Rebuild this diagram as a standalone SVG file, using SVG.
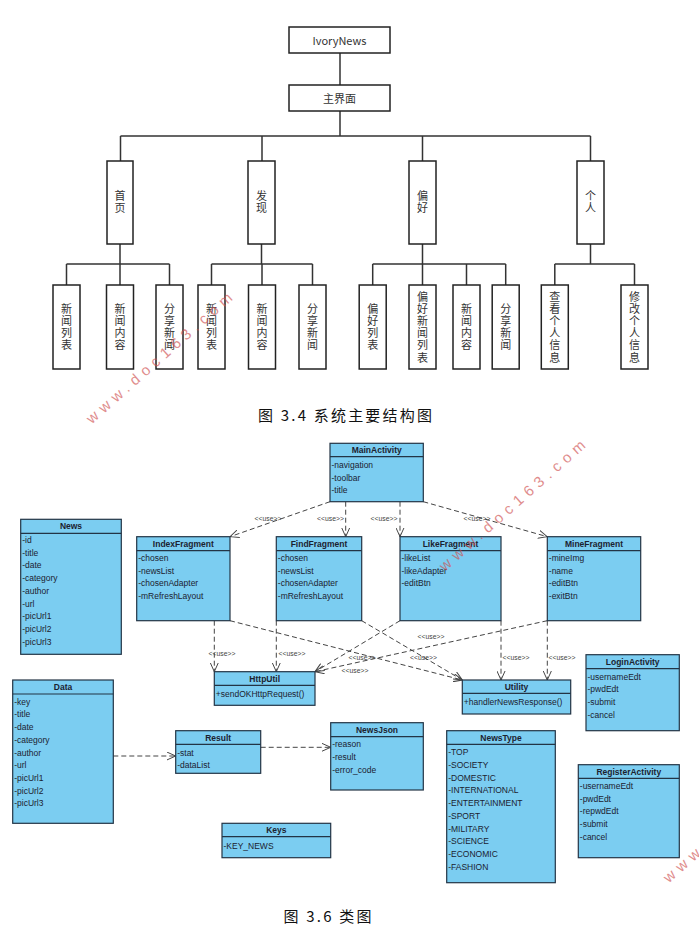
<svg xmlns="http://www.w3.org/2000/svg" width="699" height="930" viewBox="0 0 699 930">
<style>
.tb{fill:#fff;stroke:#222;stroke-width:1.5}
.tl{fill:none;stroke:#333;stroke-width:1.5}
.tt{font-family:"Noto Sans CJK SC","Noto Sans",sans-serif;font-size:11px;fill:#333;text-anchor:middle;dominant-baseline:central}
.tv{font-family:"Noto Sans CJK SC","Noto Sans",sans-serif;font-size:11px;fill:#333;text-anchor:middle;writing-mode:vertical-rl;letter-spacing:1.2px}
.cls{fill:#7BCDF1;stroke:#233445;stroke-width:1.2}
.dv{stroke:#233445;stroke-width:1.2}
.ct{font-family:"Liberation Sans",Arial,sans-serif;font-size:8.5px;fill:#1b2230;dominant-baseline:central}
.ch{font-weight:bold;text-anchor:middle}
.dep{fill:none;stroke:#444;stroke-width:1;stroke-dasharray:5 3;marker-end:url(#open)}
.lbl{font-family:"Liberation Sans",Arial,sans-serif;font-size:6.8px;fill:#444;text-anchor:middle;dominant-baseline:central}
.wm{font-family:"Liberation Sans",Arial,sans-serif;font-size:15px;fill:#d05050;opacity:0.65;letter-spacing:5.5px;text-anchor:middle;dominant-baseline:central}
.cap{font-family:"Noto Sans CJK SC",sans-serif;font-size:15px;fill:#111;text-anchor:middle;dominant-baseline:central}
</style>
<defs>
<marker id="open" viewBox="0 0 10 10" refX="10" refY="5" markerWidth="9" markerHeight="9" orient="auto" markerUnits="userSpaceOnUse">
<path d="M0,0.5 L10,5 L0,9.5" fill="none" stroke="#444" stroke-width="1.1" stroke-dasharray="none"/>
</marker>
</defs>
<rect width="699" height="930" fill="#fff"/>

<!-- Tree connectors -->
<g id="tree-lines" class="tl">
<path d="M340,53 V85 M340,111 V136 M120.5,136 H590.5 M120.5,136 V161 M262,136 V161 M422.5,136 V161 M590.5,136 V161"/>
<path d="M120,244 V264 M66.5,264 H169.5 M66.5,264 V285 M120,264 V285 M169.5,264 V285"/>
<path d="M261.5,244 V264 M211.5,264 H312.5 M211.5,264 V285 M262,264 V285 M312.5,264 V285"/>
<path d="M422.5,244 V264 M372.7,264 H505.7 M372.7,264 V285 M422.5,264 V285 M466.5,264 V285 M505.7,264 V285"/>
<path d="M590.5,244 V264 M554.8,264 H634.5 M554.8,264 V285 M634.5,264 V285"/>
</g>

<g id="n-ivory"><rect class="tb" x="289" y="27" width="101" height="26"/><text class="tt" x="339.5" y="40">IvoryNews</text></g>
<g id="n-main"><rect class="tb" x="289" y="85" width="101" height="26"/><text class="tt" x="339.5" y="98">主界面</text></g>

<g id="n-home"><rect class="tb" x="107" y="161" width="26" height="83"/><text class="tv" x="120" y="202.5">首页</text></g>
<g id="n-find"><rect class="tb" x="248" y="161" width="27" height="83"/><text class="tv" x="261.5" y="202.5">发现</text></g>
<g id="n-pref"><rect class="tb" x="409" y="161" width="27" height="83"/><text class="tv" x="422.5" y="202.5">偏好</text></g>
<g id="n-me"><rect class="tb" x="577" y="161" width="27" height="83"/><text class="tv" x="590.5" y="202.5">个人</text></g>

<g id="l1"><rect class="tb" x="53" y="285" width="27" height="84"/><text class="tv" x="66.5" y="327.5">新闻列表</text></g>
<g id="l2"><rect class="tb" x="106.5" y="285" width="27" height="84"/><text class="tv" x="120" y="327.5">新闻内容</text></g>
<g id="l3"><rect class="tb" x="156" y="285" width="27" height="84"/><text class="tv" x="169.5" y="327.5">分享新闻</text></g>
<g id="l4"><rect class="tb" x="198" y="285" width="27" height="84"/><text class="tv" x="211.5" y="327.5">新闻列表</text></g>
<g id="l5"><rect class="tb" x="248.5" y="285" width="27" height="84"/><text class="tv" x="262" y="327.5">新闻内容</text></g>
<g id="l6"><rect class="tb" x="299" y="285" width="27" height="84"/><text class="tv" x="312.5" y="327.5">分享新闻</text></g>
<g id="l7"><rect class="tb" x="359.2" y="285" width="27" height="84"/><text class="tv" x="372.7" y="327.5">偏好列表</text></g>
<g id="l8"><rect class="tb" x="409" y="285" width="27" height="84"/><text class="tv" x="422.5" y="327.5">偏好新闻列表</text></g>
<g id="l9"><rect class="tb" x="453" y="285" width="27" height="84"/><text class="tv" x="466.5" y="327.5">新闻内容</text></g>
<g id="l10"><rect class="tb" x="492.2" y="285" width="27" height="84"/><text class="tv" x="505.7" y="327.5">分享新闻</text></g>
<g id="l11"><rect class="tb" x="541.3" y="285" width="27" height="84"/><text class="tv" x="554.8" y="327.5">查看个人信息</text></g>
<g id="l12"><rect class="tb" x="621" y="285" width="27" height="84"/><text class="tv" x="634.5" y="327.5">修改个人信息</text></g>

<text class="cap" x="345" y="414" textLength="174" lengthAdjust="spacing">图 3.4 系统主要结构图</text>

<!-- Class diagram connectors -->
<g id="connectors">
<path class="dep" d="M330,501.7 L230,536.7"/>
<path class="dep" d="M345.7,501.7 L345.7,536.7"/>
<path class="dep" d="M400,501.7 L400,536.7"/>
<path class="dep" d="M423.3,501.7 L547.3,536.7"/>
<path class="dep" d="M214.3,620.7 L214.3,671.7"/>
<path class="dep" d="M276.3,620.7 L276.3,671.7"/>
<path class="dep" d="M230,620.7 L462.3,680"/>
<path class="dep" d="M361.7,620.7 L462.3,680"/>
<path class="dep" d="M400,620.7 L315,671.7"/>
<path class="dep" d="M547.3,620.7 L315,671.7"/>
<path class="dep" d="M501,620.7 L501,680"/>
<path class="dep" d="M547.3,620.7 L547.3,680"/>
<path class="dep" d="M113.3,756 L175.7,756"/>
<path class="dep" d="M260.7,747.3 L330.7,747.3"/>
<text class="lbl" x="268" y="518">&lt;&lt;use&gt;&gt;</text>
<text class="lbl" x="330.5" y="518">&lt;&lt;use&gt;&gt;</text>
<text class="lbl" x="384" y="518">&lt;&lt;use&gt;&gt;</text>
<text class="lbl" x="477" y="518">&lt;&lt;use&gt;&gt;</text>
<text class="lbl" x="222" y="653.3">&lt;&lt;use&gt;&gt;</text>
<text class="lbl" x="292" y="653.3">&lt;&lt;use&gt;&gt;</text>
<text class="lbl" x="362" y="657.5">&lt;&lt;use&gt;&gt;</text>
<text class="lbl" x="423.5" y="657">&lt;&lt;use&gt;&gt;</text>
<text class="lbl" x="355" y="670.7">&lt;&lt;use&gt;&gt;</text>
<text class="lbl" x="431" y="636.5">&lt;&lt;use&gt;&gt;</text>
<text class="lbl" x="516" y="657">&lt;&lt;use&gt;&gt;</text>
<text class="lbl" x="562" y="657">&lt;&lt;use&gt;&gt;</text>
</g>

<g id="c-main"><rect class="cls" x="330" y="443.3" width="93.3" height="58.4"/><line class="dv" x1="330" y1="456.7" x2="423.3" y2="456.7"/>
<text class="ct ch" x="376.7" y="450">MainActivity</text>
<text class="ct" x="331.5" y="465">-navigation</text><text class="ct" x="331.5" y="477.7">-toolbar</text><text class="ct" x="331.5" y="490.4">-title</text></g>

<g id="c-index"><rect class="cls" x="136.7" y="536.7" width="93.3" height="84"/><line class="dv" x1="136.7" y1="550.7" x2="230" y2="550.7"/>
<text class="ct ch" x="183.3" y="543.7">IndexFragment</text>
<text class="ct" x="138.2" y="558">-chosen</text><text class="ct" x="138.2" y="570.7">-newsList</text><text class="ct" x="138.2" y="583.4">-chosenAdapter</text><text class="ct" x="138.2" y="596.1">-mRefreshLayout</text></g>

<g id="c-find"><rect class="cls" x="276.3" y="536.7" width="85.4" height="84"/><line class="dv" x1="276.3" y1="550.7" x2="361.7" y2="550.7"/>
<text class="ct ch" x="319" y="543.7">FindFragment</text>
<text class="ct" x="277.8" y="558">-chosen</text><text class="ct" x="277.8" y="570.7">-newsList</text><text class="ct" x="277.8" y="583.4">-chosenAdapter</text><text class="ct" x="277.8" y="596.1">-mRefreshLayout</text></g>

<g id="c-like"><rect class="cls" x="400" y="536.7" width="101" height="84"/><line class="dv" x1="400" y1="550.7" x2="501" y2="550.7"/>
<text class="ct ch" x="450.5" y="543.7">LikeFragment</text>
<text class="ct" x="401.5" y="558">-likeList</text><text class="ct" x="401.5" y="570.7">-likeAdapter</text><text class="ct" x="401.5" y="583.4">-editBtn</text></g>

<g id="c-mine"><rect class="cls" x="547.3" y="536.7" width="93.4" height="84"/><line class="dv" x1="547.3" y1="550.7" x2="640.7" y2="550.7"/>
<text class="ct ch" x="594" y="543.7">MineFragment</text>
<text class="ct" x="548.8" y="558">-mineImg</text><text class="ct" x="548.8" y="570.7">-name</text><text class="ct" x="548.8" y="583.4">-editBtn</text><text class="ct" x="548.8" y="596.1">-exitBtn</text></g>

<g id="c-news"><rect class="cls" x="20.7" y="519.3" width="100.6" height="135"/><line class="dv" x1="20.7" y1="533.3" x2="121.3" y2="533.3"/>
<text class="ct ch" x="71" y="526.3">News</text>
<text class="ct" x="22.2" y="540">-id</text><text class="ct" x="22.2" y="552.7">-title</text><text class="ct" x="22.2" y="565.4">-date</text><text class="ct" x="22.2" y="578.1">-category</text><text class="ct" x="22.2" y="590.8">-author</text><text class="ct" x="22.2" y="603.5">-url</text><text class="ct" x="22.2" y="616.2">-picUrl1</text><text class="ct" x="22.2" y="628.9">-picUrl2</text><text class="ct" x="22.2" y="641.6">-picUrl3</text></g>

<g id="c-data"><rect class="cls" x="12.7" y="680" width="100.6" height="143.3"/><line class="dv" x1="12.7" y1="694" x2="113.3" y2="694"/>
<text class="ct ch" x="63" y="687">Data</text>
<text class="ct" x="14.2" y="701.7">-key</text><text class="ct" x="14.2" y="714.4">-title</text><text class="ct" x="14.2" y="727.1">-date</text><text class="ct" x="14.2" y="739.8">-category</text><text class="ct" x="14.2" y="752.5">-author</text><text class="ct" x="14.2" y="765.2">-url</text><text class="ct" x="14.2" y="777.9">-picUrl1</text><text class="ct" x="14.2" y="790.6">-picUrl2</text><text class="ct" x="14.2" y="803.3">-picUrl3</text></g>

<g id="c-http"><rect class="cls" x="214.3" y="671.7" width="100.7" height="33.6"/><line class="dv" x1="214.3" y1="685.3" x2="315" y2="685.3"/>
<text class="ct ch" x="264.7" y="678.5">HttpUtil</text>
<text class="ct" x="215.8" y="693.5">+sendOKHttpRequest()</text></g>

<g id="c-utility"><rect class="cls" x="462.3" y="680" width="108.4" height="34"/><line class="dv" x1="462.3" y1="693.3" x2="570.7" y2="693.3"/>
<text class="ct ch" x="516.5" y="686.7">Utility</text>
<text class="ct" x="463.8" y="702.3">+handlerNewsResponse()</text></g>

<g id="c-result"><rect class="cls" x="175.7" y="730.7" width="85" height="42.6"/><line class="dv" x1="175.7" y1="744.3" x2="260.7" y2="744.3"/>
<text class="ct ch" x="218.2" y="737.5">Result</text>
<text class="ct" x="177.2" y="752.7">-stat</text><text class="ct" x="177.2" y="765.3">-dataList</text></g>

<g id="c-newsjson"><rect class="cls" x="330.7" y="722.7" width="92.6" height="67.3"/><line class="dv" x1="330.7" y1="736.7" x2="423.3" y2="736.7"/>
<text class="ct ch" x="377" y="729.7">NewsJson</text>
<text class="ct" x="332.2" y="744.3">-reason</text><text class="ct" x="332.2" y="757">-result</text><text class="ct" x="332.2" y="769.7">-error_code</text></g>

<g id="c-keys"><rect class="cls" x="222" y="823.3" width="108.7" height="34.4"/><line class="dv" x1="222" y1="836.7" x2="330.7" y2="836.7"/>
<text class="ct ch" x="276.3" y="830">Keys</text>
<text class="ct" x="223.5" y="845.5">-KEY_NEWS</text></g>

<g id="c-newstype"><rect class="cls" x="446.7" y="730.7" width="108.6" height="152"/><line class="dv" x1="446.7" y1="744.3" x2="555.3" y2="744.3"/>
<text class="ct ch" x="501" y="737.5">NewsType</text>
<text class="ct" x="448.2" y="752.3">-TOP</text><text class="ct" x="448.2" y="765">-SOCIETY</text><text class="ct" x="448.2" y="777.7">-DOMESTIC</text><text class="ct" x="448.2" y="790.4">-INTERNATIONAL</text><text class="ct" x="448.2" y="803.1">-ENTERTAINMENT</text><text class="ct" x="448.2" y="815.8">-SPORT</text><text class="ct" x="448.2" y="828.5">-MILITARY</text><text class="ct" x="448.2" y="841.2">-SCIENCE</text><text class="ct" x="448.2" y="853.9">-ECONOMIC</text><text class="ct" x="448.2" y="866.6">-FASHION</text></g>

<g id="c-login"><rect class="cls" x="586" y="654.7" width="93.3" height="76"/><line class="dv" x1="586" y1="668.7" x2="679.3" y2="668.7"/>
<text class="ct ch" x="632.7" y="661.7">LoginActivity</text>
<text class="ct" x="587.5" y="676.7">-usernameEdt</text><text class="ct" x="587.5" y="689.4">-pwdEdt</text><text class="ct" x="587.5" y="702.1">-submit</text><text class="ct" x="587.5" y="714.8">-cancel</text></g>

<g id="c-register"><rect class="cls" x="578.3" y="764.7" width="101" height="93"/><line class="dv" x1="578.3" y1="778.3" x2="679.3" y2="778.3"/>
<text class="ct ch" x="628.8" y="771.5">RegisterActivity</text>
<text class="ct" x="579.8" y="786">-usernameEdt</text><text class="ct" x="579.8" y="798.7">-pwdEdt</text><text class="ct" x="579.8" y="811.4">-repwdEdt</text><text class="ct" x="579.8" y="824.1">-submit</text><text class="ct" x="579.8" y="836.8">-cancel</text></g>

<text class="cap" x="327.5" y="915" textLength="88" lengthAdjust="spacing">图 3.6 类图</text>

<!-- watermarks -->
<text class="wm" x="161" y="356" transform="rotate(-41.5 161 356)">www.doc163.com</text>
<text class="wm" x="514" y="503.5" transform="rotate(-41.5 514 503.5)">www.doc163.com</text>
<text class="wm" x="738" y="815" transform="rotate(-41.5 738 815)">www.doc163.com</text>
</svg>
